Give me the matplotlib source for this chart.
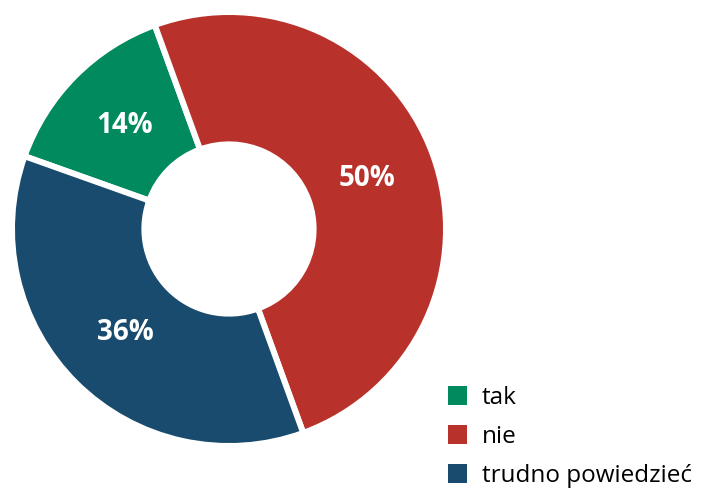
import matplotlib.pyplot as plt
from matplotlib.patches import Patch

# Survey answers
labels = ["tak", "nie", "trudno powiedzieć"]
values = [14, 50, 36]
colors = ["#008a5e", "#b8312b", "#184b6d"]

fig = plt.figure(figsize=(7.05, 4.88), dpi=100)
ax = fig.add_axes([12 / 705, 42 / 488, 434 / 705, 434 / 488])

wedges, texts, autotexts = ax.pie(
    values,
    colors=colors,
    startangle=160.4,
    counterclock=False,
    radius=1,
    autopct="%d%%",
    pctdistance=0.675,
    wedgeprops=dict(width=0.61, edgecolor="white", linewidth=4.3),
    textprops=dict(color="white", fontsize=20, fontweight="bold", family="Open Sans"),
)
ax.set_xlim(-1, 1)
ax.set_ylim(-1, 1)
ax.set_aspect("equal")
ax.axis("off")

# plain squares for the legend (the wedges carry a thick white edge)
handles = [Patch(facecolor=c, edgecolor="none") for c in colors]
fig.legend(
    handles, labels,
    loc="lower left",
    bbox_to_anchor=(448 / 705, 0.0),
    frameon=False,
    borderpad=0,
    borderaxespad=0,
    prop=dict(family="Open Sans", size=17.5),
    handlelength=0.78,
    handleheight=0.78,
    handletextpad=0.62,
    labelspacing=0.62,
)

fig.savefig("out.png", dpi=100)
